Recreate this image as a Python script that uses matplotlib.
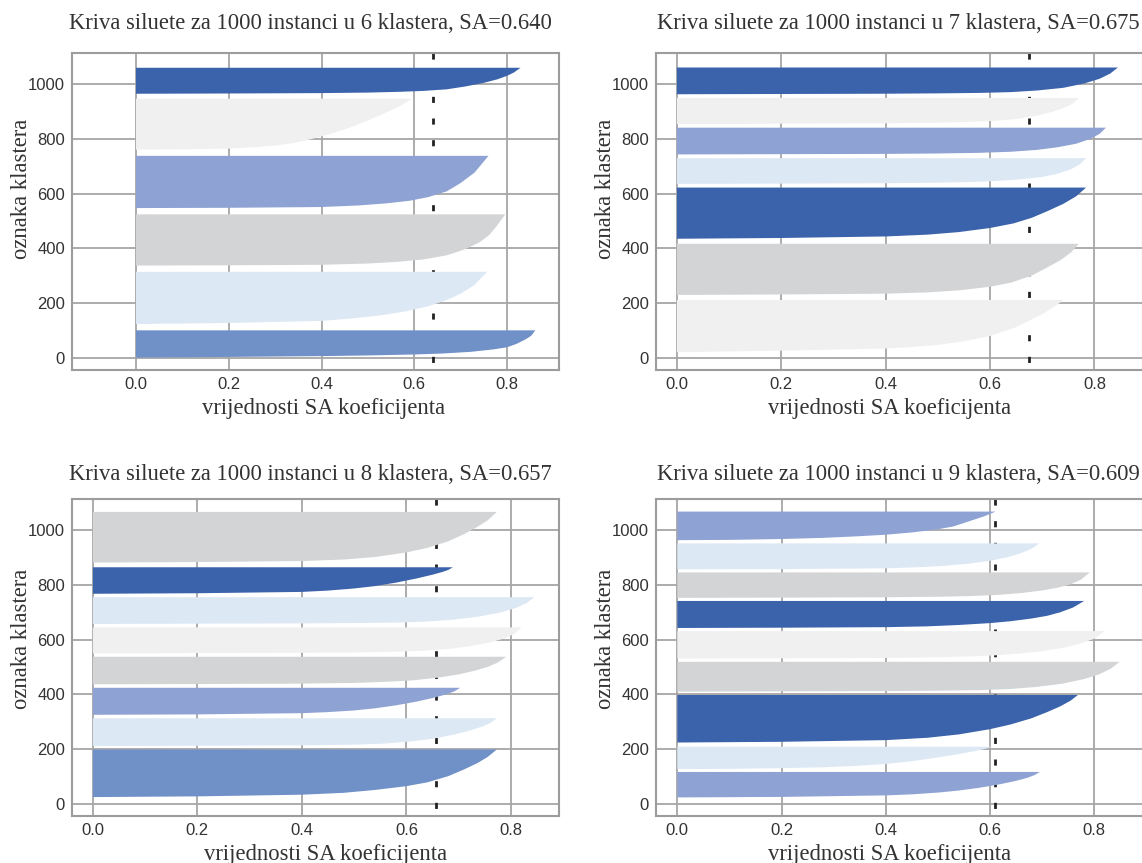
import numpy as np
import matplotlib
matplotlib.use("Agg")
import matplotlib.pyplot as plt

# ---------------------------------------------------------------
# Silhouette analysis of k-means clusterings (k = 6, 7, 8, 9)
# ---------------------------------------------------------------
n_instances = 1000
k_values = [6, 7, 8, 9]
sa_scores = [0.640, 0.675, 0.657, 0.609]

# share of every cluster whose silhouette value is ~0
zero_share = 0.05

# Each cluster: silhouette values (ascending) and the cumulative share of
# the remaining members lying at or below each value (clusters bottom->top).

# --- k = 6 ---
sizes_k6 = [105, 201, 197, 201, 196, 100]
values_k6 = [
    [0, .2, .4, .5, .6, .66, .72, .77, .8, .82, .84, .852, .861],
    [0, .2, .4, .47, .53, .58, .63, .67, .7, .73, .757],
    [0, .2, .4, .5, .56, .62, .67, .71, .74, .762, .78, .796],
    [0, .2, .4, .48, .54, .59, .63, .67, .7, .73, .76],
    [0, .1, .2, .26, .3, .34, .38, .42, .46, .5, .54, .57, .595],
    [0, .2, .4, .5, .57, .62, .67, .71, .75, .78, .8, .815, .829],
]
shares_k6 = [
    [0, .025, .055, .08, .115, .15, .21, .3, .38, .5, .67, .8, 1],
    [0, .02, .06, .11, .17, .24, .34, .46, .58, .75, 1],
    [0, .005, .015, .04, .07, .12, .2, .32, .45, .6, .8, 1],
    [0, .005, .02, .05, .09, .14, .21, .32, .48, .68, 1],
    [0, .005, .02, .05, .08, .13, .21, .31, .43, .57, .73, .86, 1],
    [0, .01, .025, .045, .075, .11, .17, .28, .42, .56, .69, .82, 1],
]

# --- k = 7 ---
sizes_k7 = [201, 197, 197, 99, 103, 100, 103]
values_k7 = [
    [0, .2, .4, .45, .5, .55, .6, .65, .7, .72, .741],
    [0, .2, .4, .48, .54, .6, .64, .68, .71, .735, .755, .77],
    [0, .2, .4, .48, .54, .6, .645, .68, .71, .74, .765, .784],
    [0, .2, .4, .5, .56, .61, .66, .7, .73, .755, .772, .784],
    [0, .2, .4, .5, .58, .64, .69, .73, .765, .792, .81, .822],
    [0, .2, .4, .5, .56, .61, .65, .69, .72, .745, .76, .77],
    [0, .2, .4, .5, .58, .64, .69, .74, .78, .81, .83, .845],
]
shares_k7 = [
    [0, .03, .07, .1, .14, .21, .31, .48, .73, .85, 1],
    [0, .01, .025, .05, .09, .16, .24, .38, .54, .68, .83, 1],
    [0, .015, .045, .08, .13, .21, .3, .41, .54, .68, .83, 1],
    [0, .01, .025, .045, .07, .11, .18, .27, .4, .57, .76, 1],
    [0, .01, .02, .035, .06, .1, .17, .27, .4, .58, .77, 1],
    [0, .01, .025, .05, .08, .12, .19, .32, .47, .65, .8, 1],
    [0, .01, .02, .033, .05, .08, .14, .24, .4, .58, .77, 1],
]

# --- k = 8 ---
sizes_k8 = [183, 107, 104, 106, 100, 103, 102, 195]
values_k8 = [
    [0, .2, .4, .48, .54, .6, .64, .68, .71, .735, .755, .773],
    [0, .2, .4, .5, .56, .61, .65, .69, .72, .745, .76, .773],
    [0, .2, .4, .45, .5, .54, .58, .62, .65, .675, .692, .703],
    [0, .2, .4, .5, .56, .61, .66, .7, .73, .755, .775, .791],
    [0, .2, .4, .5, .57, .63, .68, .72, .76, .79, .808, .82],
    [0, .2, .4, .5, .58, .64, .69, .74, .78, .81, .83, .845],
    [0, .2, .4, .45, .5, .54, .58, .62, .65, .67, .68, .689],
    [0, .2, .4, .48, .54, .6, .64, .68, .71, .735, .755, .773],
]
shares_k8 = [
    [0, .015, .05, .09, .15, .23, .31, .44, .58, .71, .84, 1],
    [0, .01, .025, .05, .09, .17, .26, .41, .55, .7, .82, 1],
    [0, .015, .06, .1, .16, .24, .35, .49, .62, .75, .87, 1],
    [0, .01, .025, .05, .09, .14, .24, .36, .49, .63, .79, 1],
    [0, .01, .02, .035, .06, .1, .17, .27, .42, .59, .77, 1],
    [0, .01, .02, .033, .05, .09, .16, .28, .43, .6, .78, 1],
    [0, .02, .07, .12, .2, .29, .42, .58, .72, .83, .9, 1],
    [0, .01, .03, .06, .11, .2, .29, .42, .56, .7, .83, 1],
]

# --- k = 9 ---
sizes_k9 = [98, 86, 183, 115, 106, 104, 98, 100, 110]
values_k9 = [
    [0, .2, .4, .45, .5, .54, .58, .62, .65, .672, .686, .696],
    [0, .1, .2, .28, .34, .4, .45, .5, .54, .57, .59, .606],
    [0, .2, .4, .48, .54, .6, .64, .68, .71, .735, .755, .769],
    [0, .2, .4, .5, .58, .64, .69, .74, .78, .81, .832, .849],
    [0, .2, .4, .5, .56, .61, .66, .7, .74, .77, .8, .82],
    [0, .2, .4, .48, .54, .6, .64, .68, .71, .735, .76, .781],
    [0, .2, .4, .5, .56, .61, .66, .7, .73, .755, .775, .792],
    [0, .2, .4, .46, .51, .56, .6, .63, .655, .672, .685, .694],
    [0, .1, .2, .28, .34, .4, .45, .5, .53, .56, .59, .611],
]
shares_k9 = [
    [0, .02, .08, .12, .19, .27, .38, .52, .65, .77, .88, 1],
    [0, .01, .04, .08, .14, .23, .35, .52, .67, .8, .9, 1],
    [0, .015, .05, .1, .17, .28, .38, .51, .64, .76, .88, 1],
    [0, .01, .02, .033, .05, .09, .16, .27, .42, .58, .77, 1],
    [0, .01, .025, .05, .08, .12, .19, .27, .39, .53, .72, 1],
    [0, .01, .03, .06, .11, .18, .25, .35, .45, .58, .76, 1],
    [0, .01, .025, .045, .07, .11, .19, .29, .4, .53, .72, 1],
    [0, .01, .04, .08, .13, .22, .33, .45, .59, .72, .85, 1],
    [0, .01, .04, .08, .13, .19, .27, .38, .48, .66, .84, 1],
]

x_ticks = [0.0, 0.2, 0.4, 0.6, 0.8]
y_ticks = [0, 200, 400, 600, 800, 1000]

# ---------------------------------------------------------------
# Styling
# ---------------------------------------------------------------
DARK = "#3B63AB"
MID = "#7090C8"
SOFT = "#8EA2D3"
PALE = "#DDE8F5"
GREY = "#D3D4D6"
LIGHT = "#F0F0F0"

colors_k6 = [MID, PALE, GREY, SOFT, LIGHT, DARK]
colors_k7 = [LIGHT, GREY, DARK, PALE, SOFT, LIGHT, DARK]
colors_k8 = [MID, PALE, SOFT, GREY, LIGHT, PALE, DARK, GREY]
colors_k9 = [SOFT, PALE, DARK, GREY, LIGHT, DARK, GREY, PALE, SOFT]

panels = [
    dict(sizes=sizes_k6, vals=values_k6, shares=shares_k6, colors=colors_k6,
         rect=(72, 53, 487, 317), xlim=(-0.138, 0.912),
         start=-5.0, gap=13.0, title_x=0.489, title_pad=17.0,
         xlabel_x=0.517, ylabel_y=0.572),
    dict(sizes=sizes_k7, vals=values_k7, shares=shares_k7, colors=colors_k7,
         rect=(656, 53, 487, 317), xlim=(-0.040, 0.893),
         start=10.0, gap=8.5, title_x=0.497, title_pad=17.0,
         xlabel_x=0.480, ylabel_y=0.572),
    dict(sizes=sizes_k8, vals=values_k8, shares=shares_k8, colors=colors_k8,
         rect=(72, 499, 487, 317), xlim=(-0.040, 0.892),
         start=15.0, gap=7.4, title_x=0.489, title_pad=13.5,
         xlabel_x=0.520, ylabel_y=0.560),
    dict(sizes=sizes_k9, vals=values_k9, shares=shares_k9, colors=colors_k9,
         rect=(656, 499, 487, 317), xlim=(-0.041, 0.894),
         start=18.0, gap=6.25, title_x=0.497, title_pad=13.5,
         xlabel_x=0.480, ylabel_y=0.560),
]

W, H, DPI = 1142, 863, 100
SERIF = ["Liberation Serif", "DejaVu Serif"]
SANS = ["Liberation Sans", "DejaVu Sans"]
LABEL_SIZE = 16.3
TEXT_COLOR = "#333333"

fig = plt.figure(figsize=(W / DPI, H / DPI), dpi=DPI, facecolor="white")

for k, sa, p in zip(k_values, sa_scores, panels):
    left, top, width, height = p["rect"]
    ax = fig.add_axes([left / W, 1 - (top + height) / H, width / W, height / H])
    ax.set_facecolor("white")

    # one horizontal silhouette band per cluster
    y_lower = p["start"]
    for size, vals, shares, color in zip(p["sizes"], p["vals"], p["shares"],
                                         p["colors"]):
        rank = zero_share + (1 - zero_share) * np.asarray(shares, float)
        y = y_lower + size * np.r_[0.0, rank]
        x = np.r_[0.0, np.asarray(vals, float)]
        ax.fill_betweenx(y, 0, x, facecolor=color, edgecolor="none",
                         linewidth=0, zorder=2)
        y_lower += size + p["gap"]

    # average silhouette score, drawn from the top of the axes downwards
    ax.plot([sa, sa], [1, 0], transform=ax.get_xaxis_transform(),
            color="#222222", lw=2.0, linestyle=(0, (2.2, 5.6)),
            dash_capstyle="butt", zorder=1.5)

    ax.set_xlim(*p["xlim"])
    ax.set_ylim(-45, 1114)
    ax.set_xticks(x_ticks)
    ax.set_yticks(y_ticks)
    ax.set_xticklabels([f"{t:.1f}" for t in x_ticks], family=SANS)
    ax.set_yticklabels([str(t) for t in y_ticks], family=SANS)
    ax.tick_params(length=0, pad=5, labelsize=12, labelcolor="#333333")

    ax.grid(True, color="#A6A6A6", lw=1.3)
    ax.set_axisbelow(True)
    for s in ax.spines.values():
        s.set_color("#9C9C9C")
        s.set_linewidth(1.5)

    ax.set_title(f"Kriva siluete za {n_instances} instanci u {k} klastera, SA={sa:.3f}",
                 family=SERIF, fontsize=LABEL_SIZE, color=TEXT_COLOR,
                 x=p["title_x"], pad=p["title_pad"])
    ax.set_xlabel("vrijednosti SA koeficijenta", family=SERIF,
                  fontsize=LABEL_SIZE, color=TEXT_COLOR)
    ax.set_ylabel("oznaka klastera", family=SERIF,
                  fontsize=LABEL_SIZE, color=TEXT_COLOR)
    ax.xaxis.set_label_coords(p["xlabel_x"], -0.088)
    ax.yaxis.set_label_coords(-0.082, p["ylabel_y"])

fig.savefig("out.png", dpi=DPI, facecolor="white")
